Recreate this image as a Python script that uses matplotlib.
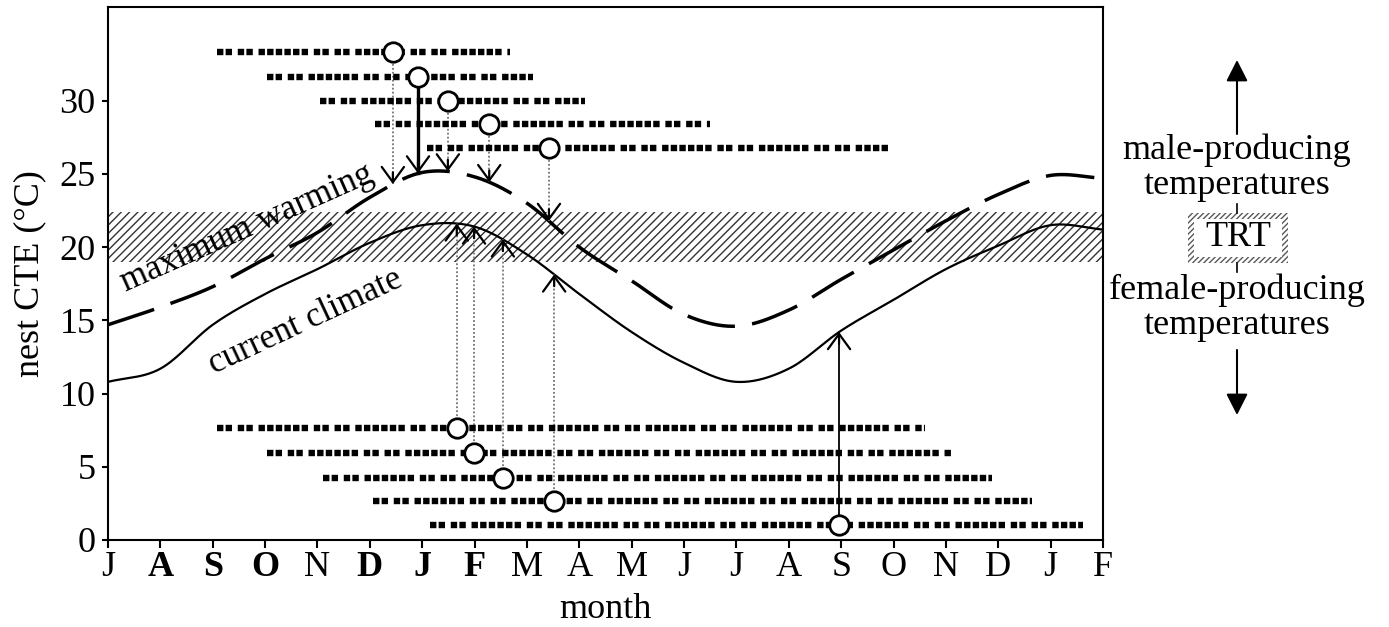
import numpy as np
import matplotlib
matplotlib.use("Agg")
import matplotlib.pyplot as plt
from matplotlib.patches import Rectangle

# ---------------- data ----------------
months = ['J', 'A', 'S', 'O', 'N', 'D', 'J', 'F', 'M', 'A', 'M', 'J', 'J', 'A', 'S', 'O', 'N', 'D', 'J', 'F']
bold_months = [1, 2, 3, 5, 6, 7]
y_ticks = [0, 5, 10, 15, 20, 25, 30]

current_climate = [10.8, 11.7, 14.7, 16.8, 18.5, 20.3, 21.5, 21.4, 19.5, 16.8,
                   14.2, 12.1, 10.8, 11.7, 14.3, 16.4, 18.5, 20.1, 21.5, 21.2]
max_warming = [14.7, 15.9, 17.3, 19.2, 21.0, 23.4, 25.1, 24.8, 23.0, 20.0,
               17.7, 15.4, 14.6, 15.7, 17.8, 19.8, 21.8, 23.6, 24.9, 24.7]

trt_low, trt_high = 19.0, 22.4

top_y = [33.3, 31.6, 30.0, 28.4, 26.8]
top_start = [2.08, 3.04, 4.05, 5.10, 6.09]
top_end = [7.68, 8.12, 9.11, 11.49, 14.89]
top_circle = [5.44, 5.92, 6.49, 7.28, 8.42]

bot_y = [7.65, 5.95, 4.25, 2.65, 1.0]
bot_start = [2.08, 3.04, 4.11, 5.06, 6.15]
bot_end = [15.60, 16.13, 16.88, 17.64, 18.62]
bot_circle = [6.66, 6.99, 7.54, 8.52, 13.96]


def catmull(y, n=30):
    y = np.asarray(y, float)
    p = np.concatenate([[2 * y[0] - y[1]], y, [2 * y[-1] - y[-2]]])
    xs, ys = [], []
    t = np.linspace(0, 1, n, endpoint=False)
    for i in range(len(y) - 1):
        p0, p1, p2, p3 = p[i], p[i + 1], p[i + 2], p[i + 3]
        ys.append(0.5 * (2 * p1 + (-p0 + p2) * t + (2 * p0 - 5 * p1 + 4 * p2 - p3) * t ** 2
                         + (-p0 + 3 * p1 - 3 * p2 + p3) * t ** 3))
        xs.append(i + t)
    xs.append([len(y) - 1.0])
    ys.append([y[-1]])
    return np.concatenate(xs), np.concatenate(ys)


plt.rcParams['font.family'] = ['Liberation Serif', 'DejaVu Serif']
plt.rcParams['hatch.linewidth'] = 1.0
FS = 26

W, H = 1389, 627
fig = plt.figure(figsize=(W / 100, H / 100), dpi=100)
ax = fig.add_axes([108 / W, 1 - 540 / H, (1103 - 108) / W, (540 - 7) / H])

x_mon = np.arange(len(months))
xc, yc = catmull(current_climate)
xw, yw = catmull(max_warming)

# TRT band
ax.axhspan(trt_low, trt_high, facecolor='white', edgecolor='0.2', hatch='////', lw=0, zorder=1)

ax.plot(xc, yc, color='k', lw=1.6, zorder=3)
ax.plot(xw, yw, color='k', lw=2.5, dashes=(14, 5), dash_capstyle='butt', zorder=3)

bar_dashes = (1, 0.35, 1, 0.9, 1, 0.35, 1, 0.9, 1, 0.35, 1, 0.35, 1, 0.35, 1, 0.35, 1, 0.35, 1, 0.9)
head = '->,head_length=0.55,head_width=0.4'

# top group -> maximum warming curve
for i in range(len(top_y)):
    c = top_circle[i]
    tip = np.interp(c, xw, yw)
    ax.plot([top_start[i], top_end[i]], [top_y[i]] * 2, color='k', lw=4.6,
            dashes=bar_dashes, dash_capstyle='butt', zorder=4)
    if i == 1:
        ax.plot([c, c], [top_y[i], tip], color='k', lw=2.4, zorder=3)
    else:
        ax.plot([c, c], [top_y[i], tip], color='0.45', lw=1.3, ls=(0, (1, 1.2)), zorder=3)
    ax.annotate('', xy=(c, tip), xytext=(c, tip + 0.8),
                arrowprops=dict(arrowstyle=head, lw=1.6, color='k', mutation_scale=20,
                                shrinkA=0, shrinkB=0), zorder=5)
    ax.plot(c, top_y[i], 'o', ms=14, mfc='white', mec='k', mew=2, zorder=6)

# bottom group -> current climate curve
for i in range(len(bot_y)):
    c = bot_circle[i]
    tip = np.interp(c, xc, yc)
    ax.plot([bot_start[i], bot_end[i]], [bot_y[i]] * 2, color='k', lw=4.6,
            dashes=bar_dashes, dash_capstyle='butt', zorder=4)
    if i == 4:
        ax.plot([c, c], [bot_y[i], tip], color='k', lw=1.3, zorder=3)
    else:
        ax.plot([c, c], [bot_y[i], tip], color='0.45', lw=1.3, ls=(0, (1, 1.2)), zorder=3)
    ax.annotate('', xy=(c, tip), xytext=(c, tip - 0.8),
                arrowprops=dict(arrowstyle=head, lw=1.6, color='k', mutation_scale=20,
                                shrinkA=0, shrinkB=0), zorder=5)
    ax.plot(c, bot_y[i], 'o', ms=14, mfc='white', mec='k', mew=2, zorder=6)

# curve labels
ax.text(2.65, 21.3, 'maximum warming', fontsize=25, rotation=24, ha='center', va='center',
        rotation_mode='anchor', zorder=7)
ax.text(3.78, 14.9, 'current climate', fontsize=25, rotation=25, ha='center', va='center',
        rotation_mode='anchor', zorder=7)

ax.set_xlim(0, len(months) - 1)
ax.set_ylim(0, 36.4)
ax.set_xticks(x_mon)
ax.set_xticklabels(months, fontsize=FS)
for i, lab in enumerate(ax.get_xticklabels()):
    if i in bold_months:
        lab.set_fontweight('bold')
ax.set_yticks(y_ticks)
ax.set_yticklabels([str(v) for v in y_ticks], fontsize=FS)
ax.tick_params(axis='x', length=6, width=1.5, pad=2)
ax.tick_params(axis='y', length=4, width=1.5, pad=5)
for s in ax.spines.values():
    s.set_linewidth(1.5)

ax.set_xlabel('month', fontsize=FS)
ax.xaxis.set_label_coords(0.5, -0.100)
ax.set_ylabel('nest CTE (°C)', fontsize=FS)
ax.yaxis.set_label_coords(-0.062, 0.5)

# right-hand annotation
ov = fig.add_axes([0, 0, 1, 1])
ov.set_xlim(0, W)
ov.set_ylim(H, 0)
ov.axis('off')
ov.patch.set_alpha(0)

big_head = '-|>,head_length=0.65,head_width=0.33'
ov.annotate('', xy=(1237, 60), xytext=(1237, 134),
            arrowprops=dict(arrowstyle=big_head, lw=1.5, color='k', mutation_scale=20,
                            shrinkA=0, shrinkB=0))
ov.annotate('', xy=(1237, 415), xytext=(1237, 350),
            arrowprops=dict(arrowstyle=big_head, lw=1.5, color='k', mutation_scale=20,
                            shrinkA=0, shrinkB=0))
ov.text(1237, 150, 'male-producing', fontsize=FS, ha='center', va='center')
ov.text(1237, 186, 'temperatures', fontsize=FS, ha='center', va='center')
ov.text(1237, 290, 'female-producing', fontsize=FS, ha='center', va='center')
ov.text(1237, 326, 'temperatures', fontsize=FS, ha='center', va='center')
ov.add_patch(Rectangle((1188, 213), 100, 50, facecolor='white', edgecolor='0.35',
                       hatch='//////', lw=0))
ov.add_patch(Rectangle((1194, 219), 88, 38, facecolor='white', lw=0))
ov.text(1238, 238, 'TRT', fontsize=FS, ha='center', va='center')
ov.plot([1237, 1237], [204, 213], color='k', lw=1.2)
ov.plot([1237, 1237], [263, 272], color='k', lw=1.2)

fig.savefig('out.png', dpi=100)
